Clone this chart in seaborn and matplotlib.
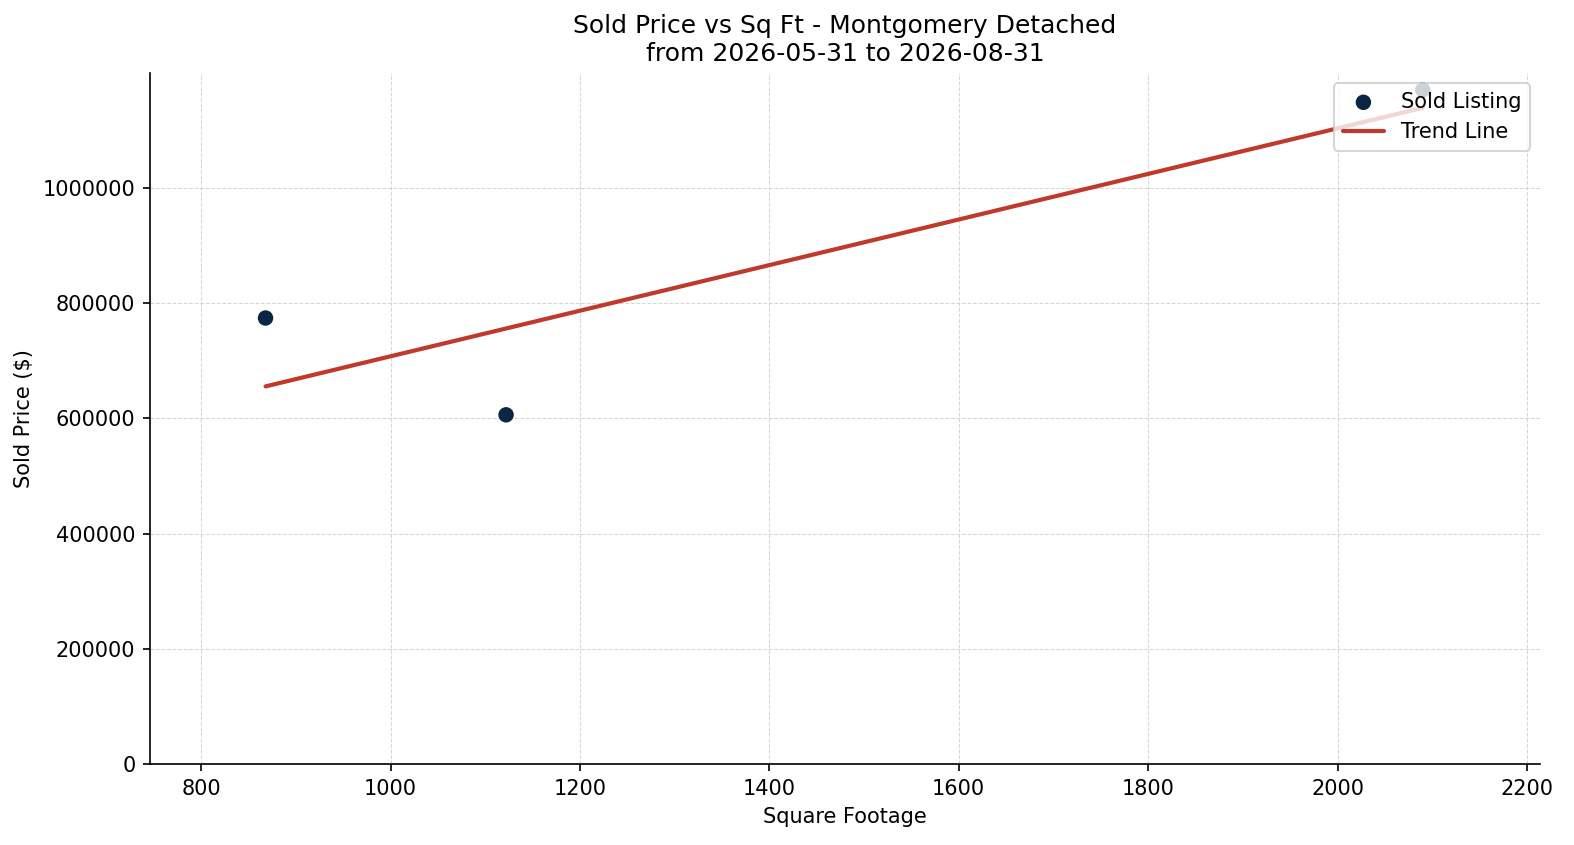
import matplotlib
matplotlib.use("Agg")
import matplotlib.pyplot as plt
import pandas as pd
import seaborn as sns

# sold listings
sqft = [868, 1122, 2090]
sold_price = [774000, 606000, 1170000]

area = "Montgomery"
prop_type = "Detached"
start_date = "2026-05-31"
end_date = "2026-08-31"

df = pd.DataFrame({"sqft": sqft, "price": sold_price})

sns.set_style("ticks")
plt.rcParams['font.family'] = ['DejaVu Sans']
plt.rcParams.update({"text.color": "black", "axes.labelcolor": "black",
                     "xtick.color": "black", "ytick.color": "black"})

fig, ax = plt.subplots(figsize=(1574 / 150, 845 / 150), dpi=150)
fig.subplots_adjust(left=0.0953, right=0.9785, top=0.9136, bottom=0.0959)

sns.scatterplot(data=df, x="sqft", y="price", ax=ax, color="#0b2545",
                s=55, edgecolor="none", label="Sold Listing", zorder=3)
sns.regplot(data=df, x="sqft", y="price", ax=ax, scatter=False, ci=None,
            truncate=True, color="#c0392b", line_kws={"linewidth": 2.0},
            label="Trend Line")

ax.set_xlim(746, 2214)
ax.set_ylim(0, max(sold_price) * 1.025)
ax.ticklabel_format(style="plain", axis="y")
ax.grid(True, linestyle="--", linewidth=0.5, color="#cccccc", alpha=0.8)
ax.set_axisbelow(True)
sns.despine(ax=ax)
for sp in ["left", "bottom"]:
    ax.spines[sp].set_color("black")

ax.set_title(f"Sold Price vs Sq Ft - {area} {prop_type}\nfrom {start_date} to {end_date}",
             fontsize=12)
ax.set_xlabel("Square Footage", fontsize=10)
ax.set_ylabel("Sold Price ($)", fontsize=10)
ax.tick_params(labelsize=10)
ax.legend(loc="upper right", fontsize=10)

fig.savefig("out.png", dpi=150)
